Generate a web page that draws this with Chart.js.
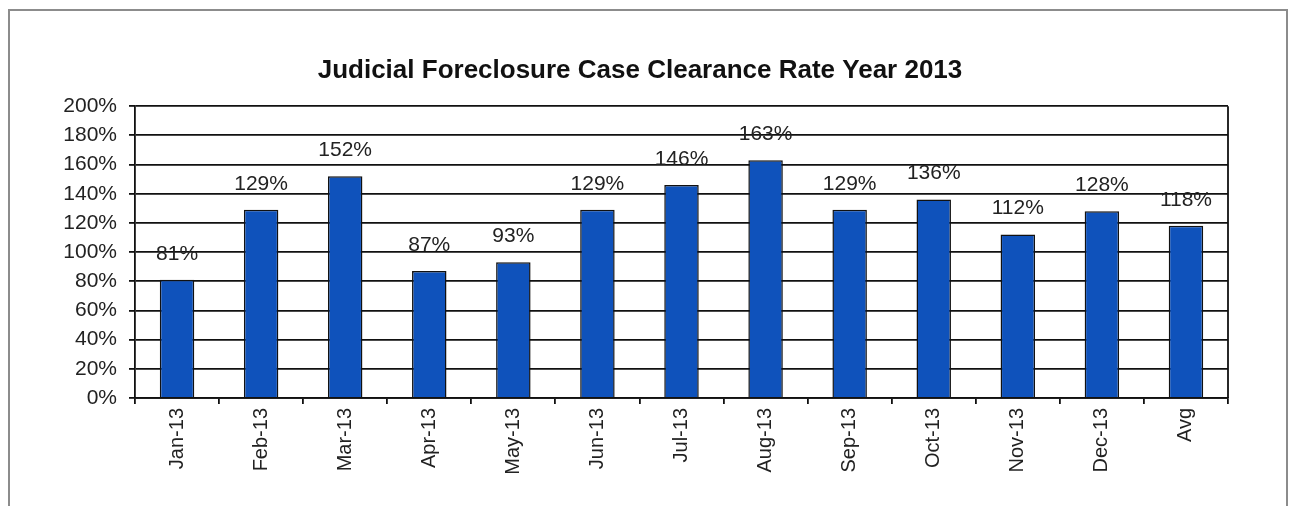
<!DOCTYPE html>
<html>
<head>
<meta charset="utf-8">
<title>Judicial Foreclosure Case Clearance Rate Year 2013</title>
<script src="https://cdn.jsdelivr.net/npm/chart.js@4"></script>
<style>
  html, body { margin: 0; padding: 0; background: #fff; overflow: hidden; }
  #wrap { position: relative; width: 1299px; height: 506px; }
  #frame {
    position: absolute; left: 8px; top: 9px; width: 1280px; height: 520px;
    border: 2px solid #8c8c8c; box-sizing: border-box;
  }
  canvas { position: absolute; left: 0; top: 0; }
</style>
</head>
<body>
<div id="wrap">
  <div id="frame"></div>
  <canvas id="chart" width="1299" height="506"></canvas>
</div>
<script>
  // chart data
  var months = ["Jan-13", "Feb-13", "Mar-13", "Apr-13", "May-13", "Jun-13", "Jul-13",
    "Aug-13", "Sep-13", "Oct-13", "Nov-13", "Dec-13", "Avg"];
  var clearanceRate = [81, 129, 152, 87, 93, 129, 146, 163, 129, 136, 112, 128, 118];
  var yTicks = [0, 20, 40, 60, 80, 100, 120, 140, 160, 180, 200];

  var fontFamily = "'Liberation Sans', Arial, sans-serif";

  // labels above each bar + right border of the plot
  var barLabels = {
    id: "barLabels",
    afterDatasetsDraw: function (chart) {
      var ctx = chart.ctx;
      var area = chart.chartArea;
      ctx.save();
      ctx.strokeStyle = "#111";
      ctx.lineWidth = 1.8;
      ctx.beginPath();
      ctx.moveTo(area.right, area.top);
      ctx.lineTo(area.right, area.bottom);
      ctx.stroke();

      ctx.font = "21px " + fontFamily;
      ctx.fillStyle = "#222";
      ctx.textAlign = "center";
      ctx.textBaseline = "middle";
      chart.getDatasetMeta(0).data.forEach(function (bar, i) {
        ctx.fillText(clearanceRate[i] + "%", bar.x, bar.y - 26);
      });
      ctx.restore();
    },
  };

  var ctx = document.getElementById("chart").getContext("2d");
  var myChart = new Chart(ctx, {
    type: "bar",
    data: {
      labels: months,
      datasets: [
        {
          label: "Clearance Rate",
          data: clearanceRate,
          backgroundColor: "#0f52bb",
          borderColor: "#111",
          borderWidth: 1.5,
          barPercentage: 0.41,
          categoryPercentage: 1,
        },
      ],
    },
    options: {
      responsive: false,
      animation: false,
      layout: {
        padding: { left: 52, right: 71, top: 38, bottom: 6 },
      },
      plugins: {
        legend: { display: false },
        tooltip: { enabled: false },
        title: {
          display: true,
          text: "Judicial Foreclosure Case Clearance Rate Year 2013",
          color: "#111",
          font: { family: fontFamily, size: 26, weight: "bold" },
          padding: { top: 17, bottom: 20 },
        },
      },
      scales: {
        x: {
          grid: {
            display: true,
            drawOnChartArea: false,
            drawTicks: true,
            tickLength: 6,
            color: "#111",
            lineWidth: 1.8,
          },
          border: { display: true, color: "#111", width: 1.8 },
          ticks: {
            color: "#222",
            font: { family: fontFamily, size: 20 },
            minRotation: 90,
            maxRotation: 90,
            padding: 4,
            autoSkip: false,
          },
          afterFit: function (scale) {
            scale.height = 102;
          },
        },
        y: {
          min: 0,
          max: 200,
          afterBuildTicks: function (scale) {
            scale.ticks = yTicks.map(function (v) { return { value: v }; });
          },
          grid: {
            color: "#111",
            lineWidth: 1.8,
            tickLength: 6,
          },
          border: { display: true, color: "#111", width: 1.8 },
          ticks: {
            color: "#222",
            font: { family: fontFamily, size: 21 },
            padding: 12,
            autoSkip: false,
            callback: function (v) { return v + "%"; },
          },
          afterFit: function (scale) {
            scale.width = 83;
          },
        },
      },
    },
    plugins: [barLabels],
  });
</script>
</body>
</html>
